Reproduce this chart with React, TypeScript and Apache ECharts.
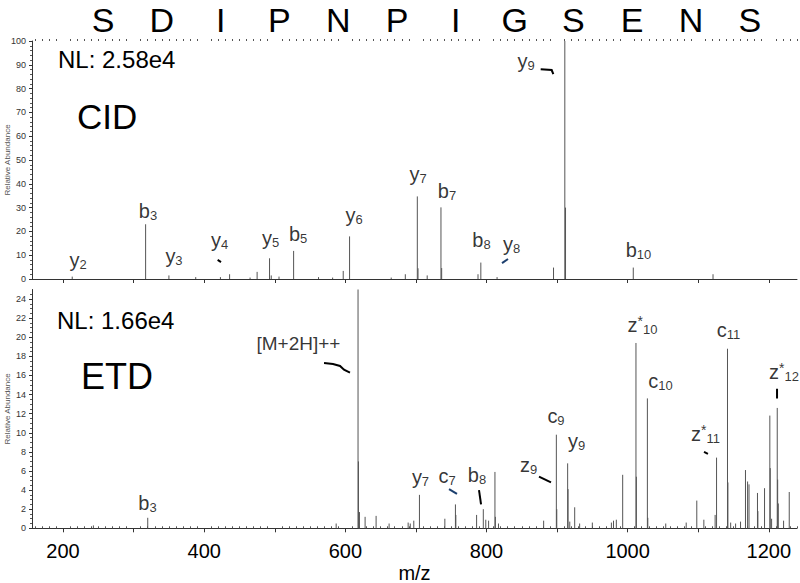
import React, { useEffect, useRef } from 'react';
import * as echarts from 'echarts';

// ---------- data ----------
const sequence = ['S', 'D', 'I', 'P', 'N', 'P', 'I', 'G', 'S', 'E', 'N', 'S'];

// CID spectrum (m/z, relative abundance %)
const cidMz = [213, 317, 350, 388, 423, 436, 465, 475, 492.6, 495, 506, 526.7, 562, 582, 597, 606, 665, 685, 702, 703, 716, 735.5, 736.5, 788, 792, 815, 895, 911, 912, 1008, 1121];
const cidAbund = [1.0, 23, 1.5, 0.8, 0.8, 2.0, 0.6, 3.0, 8.7, 1.5, 1.0, 11.8, 0.8, 0.6, 3.4, 17.9, 0.6, 2.0, 34.7, 4.5, 1.5, 30.1, 4.6, 2.0, 6.9, 0.8, 4.8, 100, 30, 4.8, 2.0];

// ETD spectrum
const etdMz = [243, 320, 587, 618, 618.6, 620, 628, 643.6, 662, 689, 692, 697, 705, 741, 756, 756.6, 786, 795.5, 799, 803, 812, 812.6, 817, 881, 899, 899.6, 915, 915.6, 918, 925, 932, 950, 977, 980, 984, 993, 1011.8, 1012.4, 1028, 1028.6, 1054, 1083, 1098, 1108, 1124, 1126, 1141.5, 1142.1, 1146, 1153, 1160, 1167, 1170, 1172, 1184, 1184.6, 1194, 1201.5, 1202.1, 1204, 1212, 1212.6, 1213.5, 1221, 1229];
const etdAbund = [0.3, 1.1, 0.5, 25.0, 7.0, 1.7, 1.2, 1.3, 0.5, 0.6, 0.5, 0.8, 3.5, 1.0, 2.5, 1.4, 1.4, 2.0, 0.9, 0.8, 5.9, 1.2, 0.5, 0.8, 9.8, 2.0, 6.8, 4.1, 0.7, 2.2, 0.5, 0.6, 0.6, 0.8, 0.9, 5.6, 19.4, 5.4, 13.6, 1.1, 0.5, 0.6, 2.9, 0.9, 1.4, 7.4, 18.8, 4.8, 0.6, 0.5, 0.7, 6.1, 4.9, 4.6, 3.7, 1.8, 4.2, 11.8, 6.3, 1.0, 12.6, 5.1, 2.6, 0.8, 3.8];

// fragment annotations (anchor in data units)
const cidLabels = ['y2', 'b3', 'y3', 'y4', 'y5', 'b5', 'y6', 'y7', 'b7', 'b8', 'y8', 'y9', 'b10'];
const cidLabelMz = [221.2, 320.4, 357.2, 421.7, 494.0, 533.0, 612.3, 703.0, 744.1, 793.0, 835.5, 856.0, 1015.4];
const cidLabelAbund = [7.8, 28.6, 9.5, 16.2, 17.4, 18.9, 26.7, 44.3, 37.0, 16.4, 14.9, 91.4, 12.2];

const etdLabels = ['b3', '[M+2H]++', 'y7', 'c7', 'b8', 'z9', 'c9', 'y9', 'z*10', 'c10', 'c11', 'z*11', 'z*12'];
const etdLabelMz = [319.7, 533.6, 706.5, 744.1, 786.6, 859.6, 898.5, 927.6, 1021.1, 1046.6, 1143.0, 1110.4, 1221.6];
const etdLabelAbund = [2.65, 19.3, 5.4, 5.5, 5.6, 6.6, 11.8, 9.1, 21.3, 15.4, 20.8, 9.9, 16.4];

// hand-drawn pointer strokes (data units)
const cidMarks = [
  [[419.1, 8.0], [423.8, 7.1]],
  [[822.0, 6.7], [830.5, 8.4]],
  [[876.8, 88.1], [892.4, 87.8], [894.7, 86.1]],
];
const cidMarkColors = ['#000', '#1c3f6e', '#000'];
const etdMarks = [
  [[569.8, 17.3], [582.5, 17.2], [592.5, 17.0], [598.1, 16.6], [606.6, 16.3]],
  [[746.9, 4.1], [758.2, 3.6]],
  [[789.4, 4.0], [792.3, 2.5]],
  [[874.4, 5.4], [891.4, 4.8]],
  [[1108.2, 8.0], [1113.8, 7.8]],
  [[1211.7, 14.6], [1211.7, 13.6]],
];
const etdMarkColors = ['#000', '#1c3f6e', '#000', '#000', '#000', '#000'];

const xRange = [156, 1240];
const xLabelValues = [200, 400, 600, 800, 1000, 1200];
const xMajorTicks = [200, 300, 400, 500, 600, 700, 800, 900, 1000, 1100, 1200];
const xMinorTicks: number[] = [];
for (let v = 160; v <= 1240; v += 10) if (v % 100 !== 0) xMinorTicks.push(v);
const etdYTicks = [0, 2, 4, 6, 8, 10, 12, 14, 16, 18, 20, 22, 24];
const etdYMinor: number[] = [];
for (let v = 0; v <= 24.5; v += 0.5) if (v % 2 !== 0) etdYMinor.push(v);

const FONT = "'Liberation Sans', Arial, Helvetica, sans-serif";

function fmt(l: string) {
  if (l.startsWith('[')) return `{n|${l}}`;
  const m = l.match(/^([a-z])(\*?)(\d+)$/);
  if (!m) return l;
  return `{m|${m[1]}}` + (m[2] ? '{p|*}' : '') + `{s|${m[3]}}`;
}

const rich = {
  m: { fontSize: 20, lineHeight: 22, fontFamily: FONT, color: '#000' },
  s: { fontSize: 13, lineHeight: 13, verticalAlign: 'bottom', fontFamily: FONT, color: '#000' },
  p: { fontSize: 14, lineHeight: 14, verticalAlign: 'top', fontFamily: FONT, color: '#000' },
  n: { fontSize: 19, lineHeight: 22, fontFamily: FONT, color: '#000' },
};

function peakSeries(mz: number[], ab: number[], idx: number) {
  return {
    type: 'custom',
    xAxisIndex: idx * 2,
    yAxisIndex: idx === 0 ? 0 : 1,
    data: mz.map((x, i) => [x, ab[i]]),
    encode: { x: 0, y: 1 },
    silent: true,
    renderItem: (params: any, api: any) => {
      const x = api.value(0);
      const y = api.value(1);
      const a = api.coord([x, 0]);
      const b = api.coord([x, y]);
      return {
        type: 'line',
        shape: { x1: a[0], y1: a[1], x2: b[0], y2: b[1] },
        style: { stroke: '#555', lineWidth: 1 },
      };
    },
  };
}

function labelSeries(labels: string[], mz: number[], ab: number[], idx: number) {
  return {
    type: 'scatter',
    xAxisIndex: idx * 2,
    yAxisIndex: idx === 0 ? 0 : 1,
    symbolSize: 0,
    silent: true,
    z: 5,
    data: labels.map((l, i) => ({ name: l, value: [mz[i], ab[i]] })),
    label: {
      show: true,
      position: 'inside',
      formatter: (p: any) => fmt(p.name),
      rich,
    },
  };
}

function markSeries(marks: number[][][], colors: string[], idx: number) {
  return {
    type: 'lines',
    coordinateSystem: 'cartesian2d',
    xAxisIndex: idx * 2,
    yAxisIndex: idx === 0 ? 0 : 1,
    polyline: true,
    silent: true,
    z: 6,
    data: marks.map((c, i) => ({ coords: c, lineStyle: { color: colors[i] } })),
    lineStyle: { width: 2, opacity: 1 },
  };
}

function xAxes(grid: number, withLabels: boolean) {
  return [
    {
      type: 'value',
      gridIndex: grid,
      min: xRange[0],
      max: xRange[1],
      axisLine: { show: true, lineStyle: { color: '#333', width: 1 } },
      axisTick: { show: true, customValues: xMajorTicks, length: 4, lineStyle: { color: '#333' } },
      axisLabel: withLabels
        ? { show: true, customValues: xLabelValues, formatter: (v: number) => String(v), fontSize: 20, fontFamily: FONT, color: '#000', margin: 13 }
        : { show: false },
      splitLine: { show: false },
      name: withLabels ? 'm/z' : '',
      nameLocation: 'middle',
      nameGap: 35,
      nameTextStyle: { fontSize: 20, fontFamily: FONT, color: '#000' },
    },
    {
      type: 'value',
      gridIndex: grid,
      min: xRange[0],
      max: xRange[1],
      axisLine: { show: false },
      axisTick: { show: true, customValues: xMinorTicks, length: 2, lineStyle: { color: '#555' } },
      axisLabel: { show: false },
      splitLine: { show: false },
    },
  ];
}

const yName = {
  name: 'Relative Abundance',
  nameLocation: 'middle',
  nameGap: 21,
  nameMoveOverlap: false,
  nameTextStyle: { fontSize: 8, fontFamily: FONT, color: '#555' },
};

export default function App() {
  const ref = useRef<HTMLDivElement>(null);
  useEffect(() => {
    if (!ref.current) return;
    const chart = echarts.init(ref.current, null, { renderer: 'svg' });
    const graphic: any[] = [];
    sequence.forEach((s, i) => {
      graphic.push({
        type: 'text',
        x: 103 + i * 58.8,
        y: 20.2,
        style: { text: s, fontSize: 34, lineHeight: 34, fontFamily: FONT, fill: '#000', align: 'center', verticalAlign: 'middle', textAlign: 'center', textVerticalAlign: 'middle' },
      });
    });
    const texts = [
      { t: 'NL: 2.58e4', x: 58, y: 59, s: 24 },
      { t: 'CID', x: 77, y: 116, s: 35 },
      { t: 'NL: 1.66e4', x: 57, y: 320, s: 24 },
      { t: 'ETD', x: 81, y: 376, s: 36 },
    ];
    texts.forEach((o) =>
      graphic.push({
        type: 'text',
        x: o.x,
        y: o.y,
        style: { text: o.t, fontSize: o.s, fontFamily: FONT, fill: '#000', align: 'left', verticalAlign: 'middle', textAlign: 'left', textVerticalAlign: 'middle' },
      })
    );

    chart.setOption({
      animation: false,
      backgroundColor: '#fff',
      grid: [
        { left: 32, top: 41, width: 765, height: 238, outerBoundsMode: 'none', containLabel: false },
        { left: 32, top: 289.5, width: 765, height: 238.8, outerBoundsMode: 'none', containLabel: false },
      ],
      xAxis: [...xAxes(0, false), ...xAxes(1, true)],
      yAxis: [
        {
          type: 'value',
          gridIndex: 0,
          min: 0,
          max: 100,
          interval: 10,
          axisLine: { show: true, lineStyle: { color: '#333' } },
          axisTick: { show: true, length: 3, lineStyle: { color: '#333' } },
          minorTick: { show: true, splitNumber: 5, length: 2, lineStyle: { color: '#555' } },
          axisLabel: { fontSize: 9, fontFamily: FONT, color: '#333', margin: 6 },
          splitLine: { show: false },
          ...yName,
        },
        {
          type: 'value',
          gridIndex: 1,
          min: 0,
          max: 25,
          axisLine: { show: true, lineStyle: { color: '#333' } },
          axisTick: { show: true, customValues: etdYTicks, length: 3, lineStyle: { color: '#333' } },
          axisLabel: { customValues: etdYTicks, fontSize: 9, fontFamily: FONT, color: '#333', margin: 6 },
          splitLine: { show: false },
          ...yName,
        },
        {
          type: 'value',
          gridIndex: 1,
          min: 0,
          max: 25,
          position: 'left',
          axisLine: { show: false },
          axisTick: { show: true, customValues: etdYMinor, length: 2, lineStyle: { color: '#555' } },
          axisLabel: { show: false },
          splitLine: { show: false },
        },
      ],
      series: [
        peakSeries(cidMz, cidAbund, 0),
        peakSeries(etdMz, etdAbund, 1),
        labelSeries(cidLabels, cidLabelMz, cidLabelAbund, 0),
        labelSeries(etdLabels, etdLabelMz, etdLabelAbund, 1),
        markSeries(cidMarks, cidMarkColors, 0),
        markSeries(etdMarks, etdMarkColors, 1),
      ],
      graphic,
    });
    return () => chart.dispose();
  }, []);
  return <div ref={ref} style={{ position: 'absolute', left: 0, top: 0, width: 800, height: 583 }} />;
}
